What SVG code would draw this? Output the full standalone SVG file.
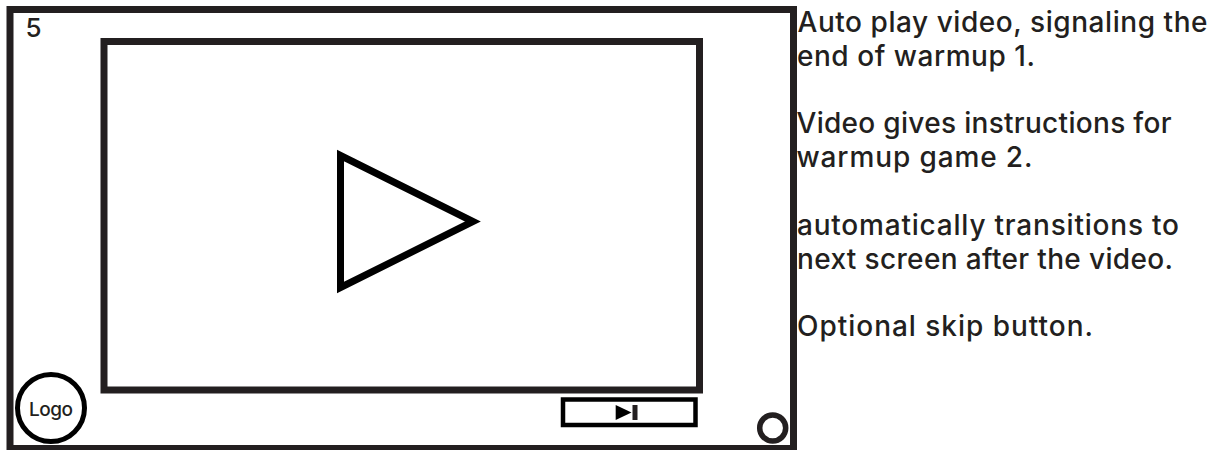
<svg xmlns="http://www.w3.org/2000/svg" width="1217" height="450" viewBox="0 0 1217 450">
<style>
.k{fill:#fff;stroke:#231f20;stroke-width:7}
.b{fill:#fff;stroke:#000;stroke-miterlimit:10}
text{font-family:Inter,"Open Sans","Liberation Sans",sans-serif;fill:#231f20}
.n{font-size:28px;font-weight:500}
</style>
<rect width="1217" height="450" fill="#fff"/>
<g id="screen"><rect class="k" x="10" y="9.500" width="783.5" height="439"/></g>
<g id="video"><rect class="k" x="104" y="41.500" width="595.5" height="348.5"/></g>
<g id="play"><path class="b" stroke-width="7" d="M340.5 155.500V287.500L473 221.500Z"/></g>
<g id="logo"><circle class="b" stroke-width="5" cx="51" cy="408" r="33.5"/><text x="29" y="415.500" font-size="19" font-weight="500" textLength="44">Logo</text></g>
<g id="skip"><rect class="b" stroke-width="4.5" x="563" y="399.500" width="132.5" height="25.5"/><path d="M615.7 405V420L631.5 412.500Z" fill="#000"/><rect x="632.5" y="405" width="5" height="15" fill="#231f20"/></g>
<g id="dot"><circle class="k" style="stroke-width:5.5" cx="772.7" cy="428" r="13"/></g>
<g id="number"><text x="25.500" y="36.500" font-size="26" font-weight="500" textLength="16">5</text></g>
<g id="notes">
<text class="n" x="797.5" y="32" textLength="410">Auto play video, signaling the</text>
<text class="n" x="797" y="65.500" textLength="238">end of warmup 1.</text>
<text class="n" x="796.5" y="133" textLength="375">Video gives instructions for</text>
<text class="n" x="796.5" y="167" textLength="236">warmup game 2.</text>
<text class="n" x="797" y="235" textLength="382">automatically transitions to</text>
<text class="n" x="797" y="269" textLength="376">next screen after the video.</text>
<text class="n" x="797" y="336" textLength="296">Optional skip button.</text>
</g>
</svg>
